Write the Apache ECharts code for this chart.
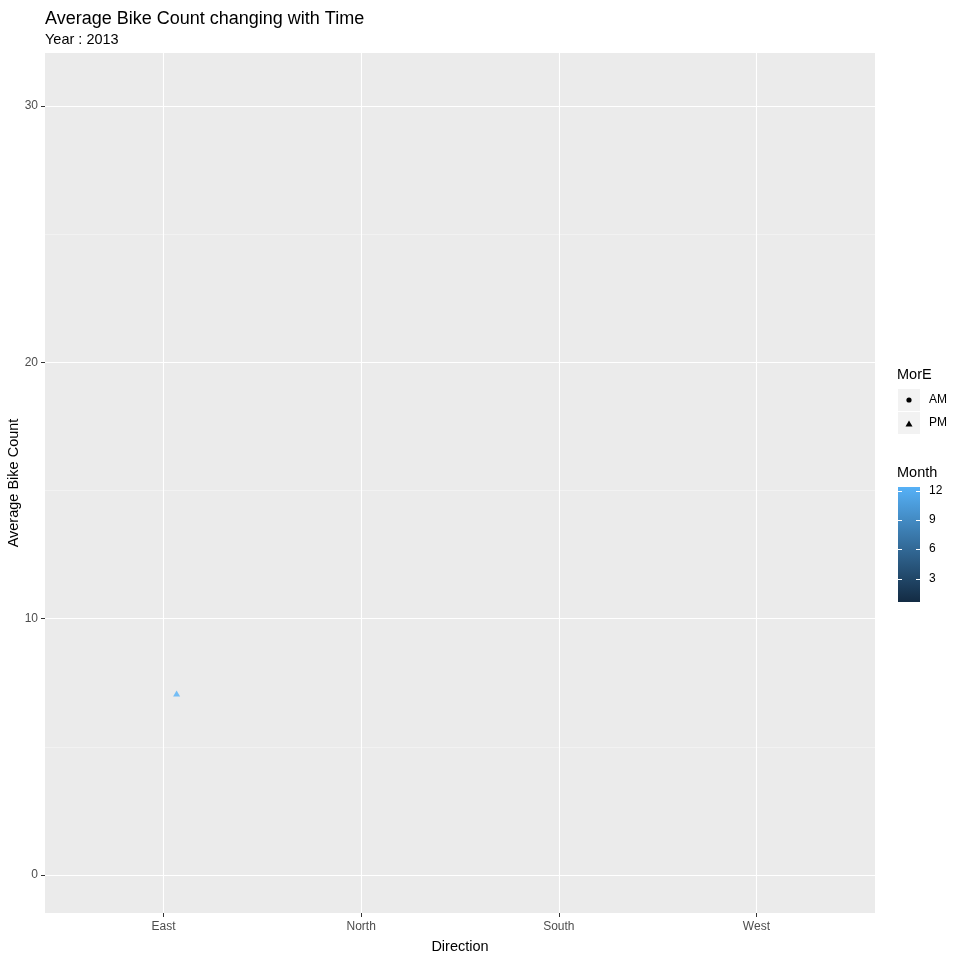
<!DOCTYPE html>
<html>
<head>
<meta charset="utf-8">
<script src="https://cdn.jsdelivr.net/npm/echarts@6/dist/echarts.min.js"></script>
<style>
  html, body { margin: 0; padding: 0; background: #ffffff; }
  #main { width: 960px; height: 960px; }
</style>
</head>
<body>
<div id="main"></div>
<script>
// data
const directions = ["East", "North", "South", "West"];
const pointDirection = ["East"];
const pointJitter = [0.066];
const pointCount = [7.08];
const pointMonth = [12];
const pointMorE = ["PM"];
const yTicks = [0, 10, 20, 30];
const yMinor = [5, 15, 25];
const monthTicks = [3, 6, 9, 12];
const morELevels = ["AM", "PM"];

const FONT = "Liberation Sans, Arial, sans-serif";
const chart = echarts.init(document.getElementById("main"));

const xPos = directions.map(function (d, i) { return i + 1; });
const pointData = pointDirection.map(function (d, i) {
  return [directions.indexOf(d) + 1 + pointJitter[i], pointCount[i], pointMonth[i], pointMorE[i]];
});

// colourbar geometry (legend)
const barX = 898, barW = 22, barTop = 487, barBottom = 602;
const monthMin = 1, monthMax = 12;
const pad = 3.5;
function monthY(v) {
  return (barBottom - pad) - (v - monthMin) / (monthMax - monthMin) * (barBottom - barTop - 2 * pad);
}

const graphics = [];
// MorE legend
graphics.push({ type: "text", left: 897, top: 367, style: { text: "MorE", font: "14.5px " + FONT, fill: "#000" } });
morELevels.forEach(function (lv, i) {
  const y = 389 + i * 23;
  graphics.push({ type: "rect", shape: { x: 898, y: y, width: 22, height: 22 }, style: { fill: "#F2F2F2" } });
  graphics.push({ type: "text", left: 929, top: y + 5, style: { text: lv, font: "12px " + FONT, fill: "#000" } });
});
graphics.push({ type: "circle", shape: { cx: 909, cy: 400, r: 2.6 }, style: { fill: "#000" } });
graphics.push({ type: "polygon", shape: { points: [[909, 420.5], [905.5, 426.5], [912.5, 426.5]] }, style: { fill: "#000" } });

// Month colourbar
graphics.push({ type: "text", left: 897, top: 465, style: { text: "Month", font: "14.5px " + FONT, fill: "#000" } });
graphics.push({
  type: "rect",
  shape: { x: barX, y: barTop, width: barW, height: barBottom - barTop },
  style: { fill: new echarts.graphic.LinearGradient(0, 0, 0, 1, [
    { offset: 0, color: "#56B1F7" },
    { offset: 1, color: "#132B43" }
  ]) }
});
monthTicks.forEach(function (m) {
  const y = Math.round(monthY(m)) + 0.5;
  graphics.push({ type: "line", shape: { x1: barX, y1: y, x2: barX + 4, y2: y }, style: { stroke: "#fff", lineWidth: 1 } });
  graphics.push({ type: "line", shape: { x1: barX + barW - 4, y1: y, x2: barX + barW, y2: y }, style: { stroke: "#fff", lineWidth: 1 } });
  graphics.push({ type: "text", left: 929, top: y - 7, style: { text: String(m), font: "12px " + FONT, fill: "#000" } });
});

const option = {
  backgroundColor: "#ffffff",
  animation: false,
  title: {
    text: "Average Bike Count changing with Time",
    subtext: "Year : 2013",
    left: 40,
    top: 5,
    itemGap: 4,
    textStyle: { fontFamily: FONT, fontSize: 18, fontWeight: "normal", color: "#000" },
    subtextStyle: { fontFamily: FONT, fontSize: 14.5, color: "#000" }
  },
  grid: {
    left: 45, top: 53, right: 85, bottom: 47,
    outerBoundsMode: "none", containLabel: false,
    backgroundColor: "#EBEBEB", show: true, borderWidth: 0
  },
  xAxis: {
    type: "value",
    min: 0.4,
    max: 4.6,
    name: "Direction",
    nameLocation: "middle",
    nameGap: 26,
    nameTextStyle: { fontFamily: FONT, fontSize: 14.5, color: "#000" },
    axisLine: { show: false, onZero: false },
    axisTick: { show: true, inside: false, length: 4, customValues: xPos, lineStyle: { color: "#333333" } },
    axisLabel: {
      customValues: xPos,
      margin: 8,
      fontFamily: FONT, fontSize: 12, color: "#4D4D4D",
      formatter: function (v) { return directions[Math.round(v) - 1] || ""; }
    },
    splitLine: { show: true, lineStyle: { color: "#ffffff", width: 1.1 } }
  },
  yAxis: [{
    type: "value",
    min: -1.48,
    max: 32.07,
    name: "Average Bike Count",
    nameLocation: "middle",
    nameGap: 24,
    nameMoveOverlap: false,
    nameRotate: 90,
    nameTextStyle: { fontFamily: FONT, fontSize: 14.5, color: "#000" },
    axisLine: { show: false, onZero: false },
    axisTick: { show: true, inside: false, length: 4, customValues: yTicks, lineStyle: { color: "#333333" } },
    axisLabel: { customValues: yTicks, margin: 7, fontFamily: FONT, fontSize: 12, color: "#4D4D4D" },
    splitLine: { show: true, lineStyle: { color: "#ffffff", width: 1.1 } }
  }, {
    type: "value",
    min: -1.48,
    max: 32.07,
    position: "left",
    axisLine: { show: false, onZero: false },
    axisTick: { show: false, customValues: yMinor },
    axisLabel: { show: false, customValues: yMinor },
    splitLine: { show: true, lineStyle: { color: "#F5F5F5", width: 0.7 } }
  }],
  visualMap: {
    show: false,
    type: "continuous",
    dimension: 2,
    min: monthMin,
    max: monthMax,
    seriesIndex: 0,
    inRange: { color: ["#132B43", "#56B1F7"] }
  },
  series: [{
    type: "scatter",
    yAxisIndex: 0,
    data: pointData,
    symbol: function (d) { return d[3] === "PM" ? "triangle" : "circle"; },
    symbolSize: [7, 6],
    z: 5
  }],
  graphic: graphics
};
chart.setOption(option);
</script>
</body>
</html>
